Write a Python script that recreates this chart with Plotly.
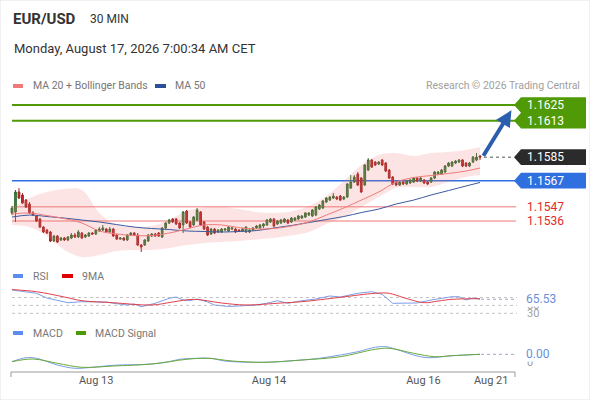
import plotly.graph_objects as go

W, H = 590, 400

# 30-minute EUR/USD bars, index 0 = Aug 12 midday, last bar = Aug 17 07:00
opens = [1.15422, 1.15429, 1.15583, 1.15560, 1.15521, 1.15491, 1.15422, 1.15399, 1.15376, 1.15314,
         1.15291, 1.15276, 1.15207, 1.15245, 1.15215, 1.15230, 1.15215, 1.15230, 1.15253, 1.15238,
         1.15268, 1.15238, 1.15245, 1.15268, 1.15261, 1.15284, 1.15291, 1.15299, 1.15276, 1.15299,
         1.15253, 1.15222, 1.15230, 1.15215, 1.15253, 1.15268, 1.15253, 1.15176, 1.15176, 1.15207,
         1.15245, 1.15261, 1.15268, 1.15238, 1.15307, 1.15345, 1.15376, 1.15376, 1.15345, 1.15330,
         1.15437, 1.15353, 1.15330, 1.15368, 1.15429, 1.15353, 1.15314, 1.15261, 1.15299, 1.15276,
         1.15276, 1.15291, 1.15284, 1.15299, 1.15299, 1.15291, 1.15284, 1.15276, 1.15276, 1.15291,
         1.15307, 1.15307, 1.15322, 1.15330, 1.15353, 1.15376, 1.15337, 1.15345, 1.15353, 1.15368,
         1.15353, 1.15368, 1.15376, 1.15383, 1.15391, 1.15406, 1.15399, 1.15406, 1.15452, 1.15460,
         1.15506, 1.15521, 1.15537, 1.15544, 1.15552, 1.15529, 1.15544, 1.15613, 1.15659, 1.15721,
         1.15690, 1.15636, 1.15751, 1.15828, 1.15813, 1.15797, 1.15828, 1.15805, 1.15751, 1.15698,
         1.15659, 1.15636, 1.15659, 1.15644, 1.15652, 1.15659, 1.15690, 1.15667, 1.15675, 1.15659,
         1.15659, 1.15690, 1.15721, 1.15721, 1.15736, 1.15782, 1.15782, 1.15805, 1.15813, 1.15828,
         1.15805, 1.15782, 1.15813, 1.15828, 1.15859]
highs = [1.15475, 1.15598, 1.15613, 1.15575, 1.15529, 1.15506, 1.15437, 1.15406, 1.15383, 1.15322,
         1.15299, 1.15284, 1.15253, 1.15253, 1.15238, 1.15238, 1.15245, 1.15268, 1.15268, 1.15291,
         1.15276, 1.15261, 1.15276, 1.15276, 1.15299, 1.15314, 1.15330, 1.15307, 1.15314, 1.15307,
         1.15261, 1.15238, 1.15238, 1.15261, 1.15276, 1.15276, 1.15268, 1.15184, 1.15222, 1.15261,
         1.15268, 1.15268, 1.15276, 1.15314, 1.15353, 1.15376, 1.15383, 1.15383, 1.15353, 1.15437,
         1.15445, 1.15360, 1.15399, 1.15460, 1.15437, 1.15360, 1.15322, 1.15307, 1.15307, 1.15299,
         1.15307, 1.15307, 1.15322, 1.15314, 1.15307, 1.15299, 1.15307, 1.15322, 1.15299, 1.15314,
         1.15330, 1.15337, 1.15345, 1.15376, 1.15383, 1.15383, 1.15368, 1.15376, 1.15383, 1.15376,
         1.15391, 1.15391, 1.15406, 1.15406, 1.15429, 1.15429, 1.15452, 1.15475, 1.15491, 1.15521,
         1.15544, 1.15552, 1.15575, 1.15552, 1.15560, 1.15552, 1.15652, 1.15713, 1.15713, 1.15736,
         1.15698, 1.15797, 1.15843, 1.15836, 1.15820, 1.15820, 1.15836, 1.15813, 1.15759, 1.15705,
         1.15667, 1.15667, 1.15667, 1.15675, 1.15682, 1.15698, 1.15698, 1.15698, 1.15682, 1.15667,
         1.15698, 1.15744, 1.15744, 1.15759, 1.15790, 1.15813, 1.15820, 1.15828, 1.15836, 1.15836,
         1.15813, 1.15813, 1.15859, 1.15882, 1.15866]
lows = [1.15406, 1.15353, 1.15529, 1.15491, 1.15460, 1.15414, 1.15399, 1.15353, 1.15307, 1.15268,
        1.15261, 1.15199, 1.15199, 1.15192, 1.15207, 1.15207, 1.15207, 1.15222, 1.15230, 1.15230,
        1.15222, 1.15230, 1.15238, 1.15253, 1.15253, 1.15276, 1.15284, 1.15268, 1.15268, 1.15238,
        1.15215, 1.15215, 1.15207, 1.15207, 1.15245, 1.15245, 1.15169, 1.15123, 1.15169, 1.15199,
        1.15238, 1.15238, 1.15238, 1.15230, 1.15299, 1.15337, 1.15345, 1.15330, 1.15299, 1.15268,
        1.15337, 1.15307, 1.15322, 1.15360, 1.15322, 1.15291, 1.15245, 1.15253, 1.15261, 1.15268,
        1.15268, 1.15284, 1.15276, 1.15291, 1.15268, 1.15276, 1.15276, 1.15268, 1.15268, 1.15284,
        1.15299, 1.15299, 1.15307, 1.15322, 1.15345, 1.15314, 1.15330, 1.15337, 1.15345, 1.15337,
        1.15345, 1.15360, 1.15368, 1.15376, 1.15383, 1.15399, 1.15391, 1.15399, 1.15445, 1.15452,
        1.15498, 1.15514, 1.15529, 1.15521, 1.15514, 1.15521, 1.15537, 1.15606, 1.15652, 1.15629,
        1.15575, 1.15629, 1.15744, 1.15767, 1.15782, 1.15790, 1.15782, 1.15736, 1.15682, 1.15636,
        1.15629, 1.15629, 1.15636, 1.15636, 1.15644, 1.15652, 1.15659, 1.15659, 1.15644, 1.15636,
        1.15652, 1.15682, 1.15713, 1.15713, 1.15728, 1.15774, 1.15774, 1.15797, 1.15805, 1.15774,
        1.15774, 1.15774, 1.15805, 1.15820, 1.15828]
closes = [1.15460, 1.15583, 1.15537, 1.15498, 1.15468, 1.15422, 1.15406, 1.15360, 1.15314, 1.15276,
          1.15268, 1.15207, 1.15245, 1.15199, 1.15230, 1.15215, 1.15238, 1.15253, 1.15238, 1.15276,
          1.15230, 1.15253, 1.15268, 1.15261, 1.15291, 1.15299, 1.15307, 1.15276, 1.15299, 1.15245,
          1.15222, 1.15230, 1.15215, 1.15253, 1.15268, 1.15253, 1.15176, 1.15161, 1.15215, 1.15253,
          1.15261, 1.15245, 1.15245, 1.15307, 1.15345, 1.15368, 1.15353, 1.15337, 1.15307, 1.15429,
          1.15345, 1.15314, 1.15391, 1.15445, 1.15330, 1.15299, 1.15253, 1.15299, 1.15268, 1.15291,
          1.15299, 1.15299, 1.15314, 1.15307, 1.15276, 1.15284, 1.15299, 1.15314, 1.15291, 1.15307,
          1.15322, 1.15330, 1.15337, 1.15368, 1.15376, 1.15322, 1.15360, 1.15368, 1.15376, 1.15345,
          1.15383, 1.15383, 1.15399, 1.15399, 1.15422, 1.15422, 1.15445, 1.15468, 1.15483, 1.15514,
          1.15537, 1.15544, 1.15552, 1.15529, 1.15521, 1.15544, 1.15644, 1.15659, 1.15698, 1.15636,
          1.15583, 1.15790, 1.15828, 1.15774, 1.15790, 1.15813, 1.15790, 1.15744, 1.15690, 1.15644,
          1.15636, 1.15659, 1.15644, 1.15667, 1.15675, 1.15690, 1.15667, 1.15690, 1.15652, 1.15644,
          1.15690, 1.15736, 1.15736, 1.15751, 1.15782, 1.15805, 1.15813, 1.15820, 1.15828, 1.15782,
          1.15782, 1.15805, 1.15851, 1.15851, 1.15850]

# moving averages and Bollinger bands, read every 5 bars
band_idx = [0, 5, 10, 15, 20, 25, 30, 35, 40, 45, 50, 55, 60, 65,
            70, 75, 80, 85, 90, 95, 100, 105, 110, 115, 120, 125, 130, 134]
ma20 = [1.15414, 1.15422, 1.15402, 1.15379, 1.15345, 1.15284, 1.15261, 1.15249, 1.15249, 1.15268,
        1.15299, 1.15330, 1.15330, 1.15310, 1.15299, 1.15303, 1.15322, 1.15353, 1.15406, 1.15460,
        1.15521, 1.15583, 1.15659, 1.15694, 1.15709, 1.15725, 1.15744, 1.15767]
ma50 = [1.15391, 1.15406, 1.15395, 1.15383, 1.15368, 1.15353, 1.15333, 1.15314, 1.15303, 1.15295,
        1.15284, 1.15280, 1.15276, 1.15280, 1.15287, 1.15307, 1.15326, 1.15349, 1.15372, 1.15395,
        1.15425, 1.15452, 1.15491, 1.15521, 1.15560, 1.15594, 1.15629, 1.15656]
bb_upper = [1.15460, 1.15537, 1.15583, 1.15606, 1.15598, 1.15422, 1.15330, 1.15314, 1.15322, 1.15368,
            1.15437, 1.15464, 1.15468, 1.15452, 1.15429, 1.15422, 1.15433, 1.15475, 1.15552, 1.15667,
            1.15790, 1.15867, 1.15882, 1.15859, 1.15882, 1.15890, 1.15905, 1.15928]
bb_lower = [1.15330, 1.15314, 1.15245, 1.15138, 1.15084, 1.15100, 1.15130, 1.15138, 1.15138, 1.15153,
            1.15176, 1.15192, 1.15199, 1.15207, 1.15218, 1.15230, 1.15249, 1.15276, 1.15337, 1.15391,
            1.15468, 1.15544, 1.15613, 1.15621, 1.15621, 1.15659, 1.15698, 1.15713]

rsi_idx = [0, 4, 7, 10, 13, 16, 20, 23, 27, 29, 33, 35, 37, 41, 45, 47, 49, 51, 53, 56,
           58, 62, 66, 70, 74, 76, 79, 83, 87, 91, 94, 99, 103, 106, 109, 113, 116, 120, 123, 126,
           128, 130, 132, 134]
rsi = [89.0, 83.9, 80.6, 68.7, 63.7, 56.8, 59.4, 59.4, 58.6, 55.3, 51.0, 53.5, 46.7, 55.3, 68.0,
       71.3, 63.7, 61.9, 66.2, 58.6, 51.0, 47.2, 48.5, 51.0, 57.3, 61.9, 55.3, 61.9, 66.2, 73.8,
       71.3, 80.6, 84.7, 78.1, 55.3, 55.3, 56.1, 63.7, 67.5, 72.0, 72.0, 63.7, 68.7, 65.53]
rsi_ma_idx = [0, 7, 15, 20, 29, 40, 46, 52, 60, 67, 77, 83, 94, 104, 108, 112, 118, 122, 126, 134]
rsi_ma = [90.0, 84.7, 71.3, 61.9, 56.8, 51.0, 58.6, 65.4, 56.1, 51.0,
          56.1, 59.4, 70.5, 80.6, 80.6, 70.0, 56.8, 61.1, 65.4, 67.0]
rsi_levels = [70, 50, 30]

macd_idx = [0, 4, 7, 13, 18, 23, 29, 40, 45, 48, 53, 57, 61, 72, 83, 88, 94, 99, 104, 107,
            110, 115, 119, 126, 134]
macd = [0.00002, 0.000215, 0.000185, -0.00015, -0.000315, -0.000265, -0.000165, -0.0001, 0.000015,
        0.000135, 0.000185, 0.000185, 0.00005, -0.000015, 0.0001, 0.000185, 0.00035, 0.000515,
        0.000735, 0.000765, 0.000635, 0.00035, 0.000215, 0.000315, 0.000385]
signal_idx = [0, 6, 13, 20, 29, 40, 50, 56, 63, 72, 83, 94, 104, 108, 115, 121, 126, 134]
signal = [0.000015, 0.00015, -0.000065, -0.000265, -0.0002, -0.0001, 0.000135, 0.000185, 0.00005,
          -0.000015, 0.0001, 0.000265, 0.000635, 0.000685, 0.000435, 0.000265, 0.000315, 0.000385]

resistances = [1.1625, 1.1613]
pivot = 1.1567
supports = [1.1547, 1.1536]
target = 1.1621
rsi_last = 65.53

tick_pos = [24.1, 73.6, 117.8, 137.2]
tick_text = ["Aug 13", "Aug 14", "Aug 16", "Aug 21"]

FONT = "Roboto, Arial, sans-serif"
GREEN_TAG = "#4f9a06"
BLUE = "#2f6fdf"


def px(x):
    return x / W


def py(y):
    return 1 - y / H


n = len(closes)
step = 468 / (n - 1)
x_range = [-12 / step, (W - 12) / step]

fig = go.Figure()

# Bollinger band fill
fig.add_trace(go.Scatter(x=band_idx, y=bb_upper, mode="lines", line=dict(width=0, shape="spline"),
                         hoverinfo="skip"))
fig.add_trace(go.Scatter(x=band_idx, y=bb_lower, mode="lines", line=dict(width=0, shape="spline"),
                         fill="tonexty", fillcolor="rgba(245,120,120,0.2)", hoverinfo="skip"))
fig.add_trace(go.Scatter(x=band_idx, y=ma50, mode="lines",
                         line=dict(color="#3c5a9e", width=1, shape="spline"), hoverinfo="skip"))
fig.add_trace(go.Scatter(x=band_idx, y=ma20, mode="lines",
                         line=dict(color="#f07a7a", width=1, shape="spline"), hoverinfo="skip"))

fig.add_trace(go.Candlestick(
    x=list(range(n)), open=opens, high=highs, low=lows, close=closes,
    increasing=dict(line=dict(color="#2e6b2e", width=1), fillcolor="#3d8b3d"),
    decreasing=dict(line=dict(color="#9e1f1f", width=1), fillcolor="#c62828"),
    whiskerwidth=0, hoverinfo="skip"))

# RSI panel
fig.add_trace(go.Scatter(x=rsi_idx, y=rsi, yaxis="y2", mode="lines",
                         line=dict(color="#7b9ee8", width=1), hoverinfo="skip"))
fig.add_trace(go.Scatter(x=rsi_ma_idx, y=rsi_ma, yaxis="y2", mode="lines",
                         line=dict(color="#e0404a", width=1, shape="spline"), hoverinfo="skip"))

# MACD panel
fig.add_trace(go.Scatter(x=macd_idx, y=macd, yaxis="y3", mode="lines",
                         line=dict(color="#7b9ee8", width=1, shape="spline"), hoverinfo="skip"))
fig.add_trace(go.Scatter(x=signal_idx, y=signal, yaxis="y3", mode="lines",
                         line=dict(color="#6aa83a", width=1, shape="spline"), hoverinfo="skip"))

shapes = []
# key levels
for lv in resistances:
    shapes.append(dict(type="line", xref="paper", yref="y", x0=px(12), x1=px(516), y0=lv, y1=lv,
                       line=dict(color=GREEN_TAG, width=2), layer="below"))
shapes.append(dict(type="line", xref="paper", yref="y", x0=px(12), x1=px(516), y0=pivot, y1=pivot,
                   line=dict(color=BLUE, width=1.5), layer="below"))
for lv in supports:
    shapes.append(dict(type="line", xref="paper", yref="y", x0=px(12), x1=px(516), y0=lv, y1=lv,
                       line=dict(color="#f4a4a4", width=1.5), layer="below"))
shapes.append(dict(type="line", xref="paper", yref="y", x0=px(484), x1=px(514),
                   y0=closes[-1], y1=closes[-1], line=dict(color="#555555", width=1, dash="dot")))

# right-hand price tags
hh = 0.0006
xl, xr, xt = px(521), px(586), px(514)
top, bot = resistances[0] + hh, resistances[1] - hh
shapes.append(dict(type="path", xref="paper", yref="y", fillcolor=GREEN_TAG, line=dict(width=0),
                   path=f"M {xl},{top} L {xr},{top} L {xr},{bot} L {xl},{bot} L {xt},{resistances[1]} "
                        f"L {xl},{(resistances[0] + resistances[1]) / 2} L {xt},{resistances[0]} Z"))
for lv, col in [(closes[-1], "#2b2b2b"), (pivot, BLUE)]:
    shapes.append(dict(type="path", xref="paper", yref="y", fillcolor=col, line=dict(width=0),
                       path=f"M {xl},{lv + hh} L {xr},{lv + hh} L {xr},{lv - hh} L {xl},{lv - hh} "
                            f"L {xt},{lv} Z"))

# indicator guides
for lv in rsi_levels:
    shapes.append(dict(type="line", xref="paper", yref="y2", x0=px(12), x1=px(517), y0=lv, y1=lv,
                       line=dict(color="#c4c4c4", width=1, dash="dot"), layer="below"))
shapes.append(dict(type="line", xref="paper", yref="y2", x0=px(481), x1=px(517),
                   y0=rsi_last, y1=rsi_last, line=dict(color="#9aa8c8", width=1, dash="dot")))
shapes.append(dict(type="line", xref="paper", yref="y3", x0=px(481), x1=px(517),
                   y0=macd[-1], y1=macd[-1], line=dict(color="#9aa8c8", width=1, dash="dot")))

# bottom time axis bracket
for seg in [(11, 372, 515, 372), (11, 372, 11, 377), (515, 372, 515, 377)]:
    shapes.append(dict(type="line", xref="paper", yref="paper", x0=px(seg[0]), y0=py(seg[1]),
                       x1=px(seg[2]), y1=py(seg[3]), line=dict(color="#9a9a9a", width=1)))

# legend swatches
for x0, x1, y, col in [(13, 23, 86, "#f07a7a"), (155, 166, 86, "#2c4f9c"),
                       (13, 23, 276, "#5b8def"), (62, 73, 276, "#e00000"),
                       (13, 23, 333, "#5b8def"), (76, 86, 333, "#4a9a00")]:
    shapes.append(dict(type="rect", xref="paper", yref="paper", x0=px(x0), x1=px(x1),
                       y0=py(y + 2), y1=py(y - 2), fillcolor=col, line=dict(width=0)))

# outer frame
shapes.append(dict(type="rect", xref="paper", yref="paper", x0=0, x1=1, y0=0, y1=1,
                   line=dict(color="#e4e4e4", width=1)))

ann = []


def txt(x, y, s, size=11, color="#333333", anchor="left", **kw):
    ann.append(dict(x=px(x), y=py(y), xref="paper", yref="paper", text=s, showarrow=False,
                    xanchor=anchor, yanchor="middle", font=dict(size=size, color=color, family=FONT),
                    **kw))


txt(11, 19, "<b>EUR/USD</b>", 15)
txt(88, 19, "30 MIN", 12)
txt(12, 48, "Monday, August 17, 2026 7:00:34 AM CET", 13)
txt(31, 86, "MA 20 + Bollinger Bands", 10.5, "#777777")
txt(173, 86, "MA 50", 10.5, "#777777")
txt(582, 86, "Research © 2026 Trading Central", 10.5, "#a0a0a0", anchor="right")
txt(31, 276, "RSI", 10.5, "#777777")
txt(80, 276, "9MA", 10.5, "#777777")
txt(31, 333, "MACD", 10.5, "#777777")
txt(93, 333, "MACD Signal", 10.5, "#777777")


def side(y, s, yref, color, bg=None, size=12):
    d = dict(x=px(525), y=y, xref="paper", yref=yref, text=s, showarrow=False, xanchor="left",
             yanchor="middle", font=dict(size=size, color=color, family=FONT))
    if bg:
        d["bgcolor"] = bg
        d["borderpad"] = 0
    ann.append(d)


for lv in resistances:
    side(lv, f"{lv:.4f}", "y", "white")
side(closes[-1], f"{closes[-1]:.4f}", "y", "white")
side(pivot, f"{pivot:.4f}", "y", "white")
for lv in supports:
    side(lv, f"{lv:.4f}", "y", "#e02b2b")
side(50, "50", "y2", "#a0a0a0", size=11)
side(30, "30", "y2", "#a0a0a0", size=11)
side(rsi_last, f"{rsi_last:.2f}", "y2", "#6b8fd8", bg="white", size=12)
side(0, "0", "y3", "#a0a0a0", size=11)
side(macd[-1], f"{macd[-1]:.2f}", "y3", "#6b8fd8", bg="white", size=12)

# forecast arrow from the last close to the target
ann.append(dict(x=n - 1 + 9, y=target, ax=n - 1 + 0.7, ay=closes[-1], xref="x", yref="y",
                axref="x", ayref="y", text="", showarrow=True, arrowhead=2, arrowsize=0.8,
                arrowwidth=4, arrowcolor="#2b5fae", standoff=0, startstandoff=0))

fig.update_layout(
    width=W, height=H,
    margin=dict(l=0, r=0, t=0, b=0),
    paper_bgcolor="white", plot_bgcolor="white",
    showlegend=False,
    font=dict(family=FONT),
    shapes=shapes,
    annotations=ann,
    xaxis=dict(domain=[0, 1], range=x_range, anchor="y3", showgrid=False, zeroline=False,
               showline=False, ticks="", tickvals=tick_pos, ticktext=tick_text,
               tickfont=dict(size=11, color="#555555"), rangeslider=dict(visible=False),
               fixedrange=True),
    yaxis=dict(domain=[py(262), py(92)], range=[1.15046, 1.16350], visible=False),
    yaxis2=dict(domain=[py(325.15), py(285.65)], range=[0, 100], visible=False),
    yaxis3=dict(domain=[py(372), py(340)], range=[-0.0005, 0.0011], visible=False),
)

# the page body has a default 8px margin; drop it so the figure fills the window
fig.write_html("out.html", config={"displayModeBar": False},
               post_script="document.body.style.margin='0';document.body.style.overflow='hidden';")
